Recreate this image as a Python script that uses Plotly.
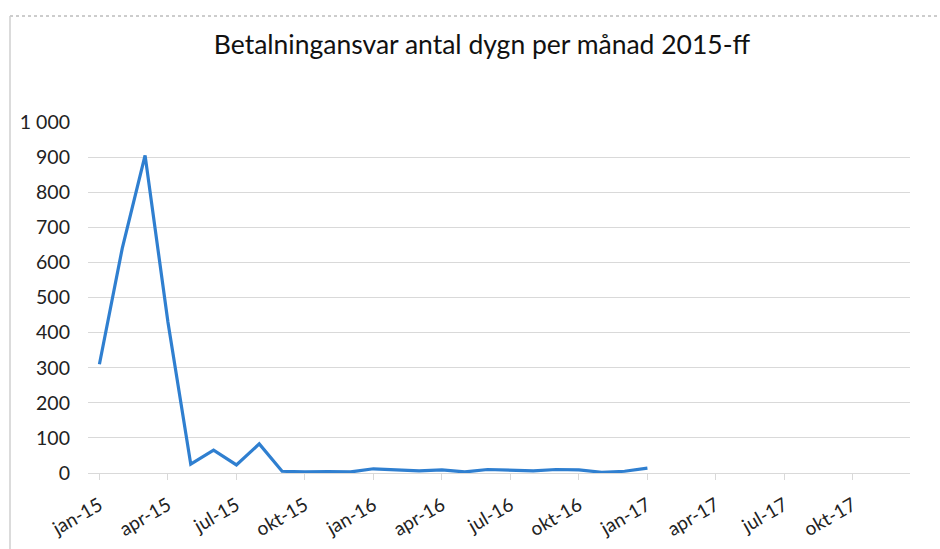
import plotly.graph_objects as go

# --- data ---
months = ["jan", "feb", "mar", "apr", "maj", "jun", "jul", "aug", "sep", "okt", "nov", "dec"]
years = ["15", "16", "17"]
categories = [f"{m}-{y}" for y in years for m in months]  # jan-15 .. dec-17
values = [310, 640, 905, 430, 25, 65, 23, 83, 5, 3, 4, 3,
          12, 9, 6, 9, 3, 10, 7, 6, 10, 9, 2, 5,
          14]
tick_labels = [c for i, c in enumerate(categories) if i % 3 == 0 and i < 34]
y_ticks = list(range(0, 1001, 100))

title = "Betalningansvar antal dygn per månad 2015-ff"

fig = go.Figure()
fig.add_trace(go.Scatter(
    x=categories[:len(values)], y=values, mode="lines",
    line=dict(color="#2f7fd0", width=3.2), hoverinfo="x+y", showlegend=False,
))

W, H = 940, 549
ml, mr, mt, mb = 88, 30, 122, 76
pw, ph = W - ml - mr, H - mt - mb

def px_to_paper_x(px):
    return (px - ml) / pw

def py_to_paper_y(py):
    return ((H - py) - mb) / ph

font_family = "Lato, 'Open Sans', sans-serif"

fig.update_layout(
    width=W, height=H,
    margin=dict(l=ml, r=mr, t=mt, b=mb, autoexpand=False),
    paper_bgcolor="white", plot_bgcolor="white",
    separators=", ",
    font=dict(family=font_family, color="#222222", size=19),
    title=dict(text=title, x=482 / W, xanchor="center", y=1 - 45 / H, yanchor="middle",
               font=dict(family=font_family, size=26.5, color="#111111")),
    xaxis=dict(
        type="category", categoryorder="array", categoryarray=categories,
        range=[-0.5, len(categories) - 0.5],
        tickmode="array", tickvals=tick_labels, ticktext=tick_labels,
        tickangle=-30, ticks="outside", ticklen=6, tickcolor="#d9d9d9",
        showline=True, linecolor="#d9d9d9", linewidth=1,
        showgrid=False, zeroline=False, ticklabelstandoff=7,
        tickfont=dict(size=19, color="#222222"),
    ),
    yaxis=dict(
        range=[0, 1000], tickmode="array", tickvals=y_ticks,
        tickformat=",d", showgrid=True, gridcolor="#d9d9d9", gridwidth=1,
        zeroline=False, showline=False, ticks="", ticklabelstandoff=17,
        tickfont=dict(size=19.5, color="#222222"),
    ),
    shapes=[
        dict(type="line", xref="paper", yref="paper",
             x0=px_to_paper_x(10), x1=px_to_paper_x(940),
             y0=py_to_paper_y(16), y1=py_to_paper_y(16),
             line=dict(color="#9a9a9a", width=1, dash="dot")),
        dict(type="line", xref="paper", yref="paper",
             x0=px_to_paper_x(10), x1=px_to_paper_x(10),
             y0=py_to_paper_y(16), y1=py_to_paper_y(549),
             line=dict(color="#cfcfcf", width=1.5)),
    ],
)

fig.write_html("out.html", config={"displayModeBar": False},
               post_script="document.body.style.margin='0';document.body.style.overflow='hidden';")
